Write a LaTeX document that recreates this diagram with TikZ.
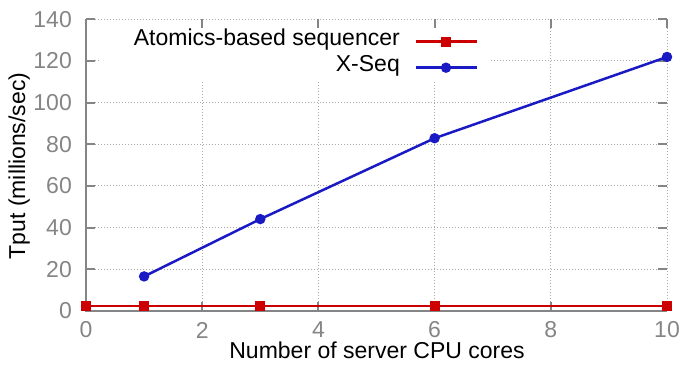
\documentclass[tikz,border=0pt]{standalone}
\usepackage{fontspec}
\setmainfont{Liberation Sans}
\definecolor{axisgray}{HTML}{858585}
\definecolor{gridgray}{HTML}{A8A8A8}
\definecolor{seqred}{HTML}{CC0000}
\definecolor{seqblue}{HTML}{1A1AC4}
\begin{document}
\begin{tikzpicture}[x=1pt, y=1pt, font=\fontsize{23}{27}\selectfont,
  axisline/.style={draw=axisgray, line width=2pt},
  gridline/.style={draw=gridgray, line width=1pt, dash pattern=on 1pt off 2pt},
  ticklbl/.style={text=axisgray, inner sep=0pt},
  redline/.style={draw=seqred, line width=2.5pt},
  blueline/.style={draw=seqblue, line width=2.5pt},
  redmark/.style={rectangle, fill=seqred, minimum size=10pt, inner sep=0pt},
  bluemark/.style={circle, fill=seqblue, minimum size=10.5pt, inner sep=0pt},
]
\useasboundingbox (0,0) rectangle (685,366);

% data frame: origin at (86,55), 58.1pt per core, 2.084pt per million/sec
\begin{scope}[shift={(86,55)}, x=58.1pt, y=2.084pt]
  \foreach \i in {2,4,...,10} \draw[gridline] (\i,0) -- (\i,140);
  \foreach \j in {20,40,...,140} \draw[gridline] (0,\j) -- (10,\j);
\end{scope}

% opaque key area
\fill[white] (100,286) rectangle (490,338);

\begin{scope}[shift={(86,55)}, x=58.1pt, y=2.084pt]
  % border (left and bottom) and tics on all four sides
  \draw[axisline] (0,140) -- (0,0) -- (10,0);
  \foreach \j in {20,40,...,140} {
    \draw[axisline] (0,\j) -- ++(9pt,0);
    \draw[axisline] (10,\j) -- ++(-9pt,0);
  }
  \foreach \i in {2,4,...,10} {
    \draw[axisline] (\i,0) -- ++(0,9pt);
    \draw[axisline] (\i,140) -- ++(0,-9pt);
  }
  % tick labels
  \foreach \j in {0,20,...,140}
    \node[ticklbl, anchor=east, xshift=-14pt] (yl\j) at (0,\j) {\j};
  \foreach \i in {0,2,...,10}
    \node[ticklbl, yshift=-19pt] (xl\i) at (\i,0) {\i};

  % measurements
  \coordinate (a0) at (0,2.5);
  \coordinate (a1) at (1,2.5);
  \coordinate (a3) at (3,2.5);
  \coordinate (a6) at (6,2.5);
  \coordinate (a10) at (10,2.5);
  \coordinate (b1) at (1,16.6);
  \coordinate (b3) at (3,44.1);
  \coordinate (b6) at (6,82.9);
  \coordinate (b10) at (10,121.9);

  \draw[redline] (a0) -- (a1) -- (a3) -- (a6) -- (a10);
  \foreach \p in {a0,a1,a3,a6,a10} \node[redmark] (m\p) at (\p) {};
  \draw[blueline] (b1) -- (b3) -- (b6) -- (b10);
  \foreach \p in {b1,b3,b6,b10} \node[bluemark] (m\p) at (\p) {};
\end{scope}

% axis titles
\node[anchor=base] (xtitle) at (377,7) {Number of server CPU cores};
\node[anchor=base, rotate=90] (ytitle) at (25,200) {Tput (millions/sec)};

% key
\node[anchor=base east, inner sep=0pt] (k1) at (400,320) {Atomics-based sequencer};
\node[anchor=base east, inner sep=0pt] (k2) at (400,294.3) {X-Seq};
\coordinate (k1s) at (416,324.3);
\coordinate (k1e) at (477,324.3);
\coordinate (k2s) at (416,298.3);
\coordinate (k2e) at (477,298.3);
\draw[redline] (k1s) -- (k1e);
\node[redmark] (k1m) at (446,324.3) {};
\draw[blueline] (k2s) -- (k2e);
\node[bluemark] (k2m) at (446,298.3) {};
\end{tikzpicture}
\end{document}
